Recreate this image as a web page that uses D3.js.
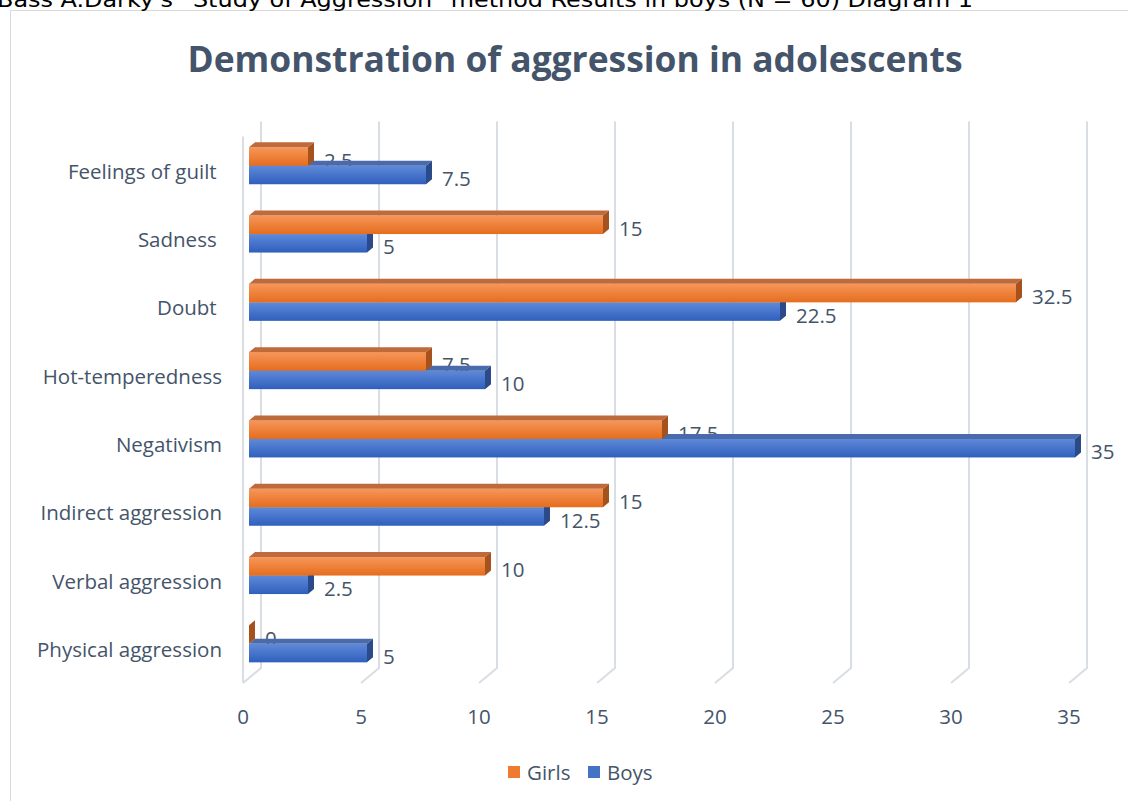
<!DOCTYPE html>
<html>
<head>
<meta charset="utf-8">
<script src="https://cdn.jsdelivr.net/npm/d3@7"></script>
<style>
  body { margin: 0; background: #fff; }
  svg { display: block; }
  text { font-family: "Open Sans", sans-serif; fill: #44546a; }
</style>
</head>
<body>
<div id="chart"></div>
<script>
//---------------------------------- Data --------------------
var categories = ["Feelings of guilt ", "Sadness ", "Doubt ", "Hot-temperedness", "Negativism", "Indirect aggression", "Verbal aggression", "Physical aggression"];
var girls = [2.5, 15, 32.5, 7.5, 17.5, 15, 10, 0];
var boys = [7.5, 5, 22.5, 10, 35, 12.5, 2.5, 5];
var xTicks = [0, 5, 10, 15, 20, 25, 30, 35];
var seriesNames = ["Girls", "Boys"];

//---------------------------------- View --------------------
var width = 1128, height = 801;
var DX = 18, DY = 15;           // full depth of the 3d box
var bdx = 6, bdy = 5;           // depth of one bar
var barH = 18.5;
var fs = "20.5px";

var svg = d3.select("#chart").append("svg")
    .attr("width", width)
    .attr("height", height);

var defs = svg.append("defs");
function grad(id, c1, c2) {
  var g = defs.append("linearGradient").attr("id", id)
    .attr("x1", 0).attr("y1", 0).attr("x2", 0).attr("y2", 1);
  g.append("stop").attr("offset", "0%").attr("stop-color", c1);
  g.append("stop").attr("offset", "100%").attr("stop-color", c2);
}
grad("gOrange", "#f7965a", "#e56d1d");
grad("gBlue", "#5f8ad9", "#2f5fbd");

var colors = {
  Girls: {front: "url(#gOrange)", top: "#bf6a3b", side: "#a5521c", legend: "#ee7b30"},
  Boys:  {front: "url(#gBlue)",   top: "#4a6aab", side: "#2a4a8a", legend: "#4472c4"}
};

// outer chart frame
svg.append("rect")
    .attr("x", 10.5).attr("y", 10.5)
    .attr("width", 1130).attr("height", 800)
    .style("fill", "none")
    .style("stroke", "#d9d9d9")
    .style("stroke-width", 1);

// text above the chart (cut off at the top, as in the source page)
svg.append("text")
    .attr("x", -3).attr("y", 7)
    .attr("textLength", 976)
    .attr("lengthAdjust", "spacingAndGlyphs")
    .style("font-family", "'DejaVu Sans Condensed', 'DejaVu Sans', sans-serif")
    .style("font-size", "22px")
    .style("fill", "#000")
    .text("Bass A.Darky's \u201CStudy of Aggression\u201D method Results in boys (N = 60) Diagram 1");

// title
svg.append("text")
    .attr("x", 575).attr("y", 58)
    .attr("text-anchor", "middle")
    .attr("dominant-baseline", "central")
    .style("font-size", "35.4px")
    .style("font-weight", "bold")
    .text("Demonstration of aggression in adolescents");

//---------------------------------- Scales --------------------
var x_scale = d3.scaleLinear().domain([0, 35]).range([243, 243 + 35 * 23.6]);
var y_scale = d3.scaleBand().domain(categories).range([136.6, 683]);

var yTop = y_scale.range()[0], yBot = y_scale.range()[1];

// ---------- gridlines on back wall + floor ----------
var grid = svg.append("g").attr("class", "grid")
    .style("stroke", "#d9dde4").style("stroke-width", 2).style("fill", "none");

grid.append("line")
    .attr("x1", x_scale(0)).attr("x2", x_scale(0))
    .attr("y1", yTop).attr("y2", yBot);

grid.selectAll(".gl").data(xTicks).enter().append("polyline")
    .attr("class", "gl")
    .attr("points", function(d) {
      var xf = x_scale(d);
      return [[xf + DX, yTop - DY], [xf + DX, yBot - DY], [xf, yBot]].join(" ");
    });

// x axis tick labels
svg.selectAll(".xtick").data(xTicks).enter().append("text")
    .attr("class", "xtick")
    .attr("x", function(d) { return x_scale(d); })
    .attr("y", 716)
    .attr("text-anchor", "middle")
    .attr("dominant-baseline", "central")
    .style("font-size", fs)
    .text(function(d) { return d; });

// category labels
svg.selectAll(".ylab").data(categories).enter().append("text")
    .attr("class", "ylab")
    .attr("x", 222)
    .attr("y", function(d) { return y_scale(d) + y_scale.bandwidth() / 2; })
    .attr("text-anchor", "end")
    .attr("dominant-baseline", "central")
    .style("white-space", "pre")
    .style("font-size", fs)
    .text(function(d) { return d; });

//---------------------------------- Bars --------------------
var bars = [];
categories.forEach(function(c, i) {
  var mid = y_scale(c) + y_scale.bandwidth() / 2 - bdy;   // bar plane
  bars.push({series: "Boys", value: boys[i], y0: mid, y1: mid + barH});
  bars.push({series: "Girls", value: girls[i], y0: mid - barH, y1: mid});
});

var x0 = x_scale(0) + bdx;

// value labels first (bars overlap them like in the original)
svg.selectAll(".vlab").data(bars).enter().append("text")
    .attr("class", "vlab")
    .attr("x", function(d) { return x_scale(d.value) + 2 * bdx + 10; })
    .attr("y", function(d) { return (d.y0 + d.y1) / 2 + 3; })
    .attr("dominant-baseline", "central")
    .style("font-size", fs)
    .text(function(d) { return d.value; });

var barG = svg.selectAll(".bar").data(bars).enter().append("g").attr("class", "bar");

barG.append("rect")
    .attr("x", x0)
    .attr("y", function(d) { return d.y0; })
    .attr("width", function(d) { return x_scale(d.value) - x_scale(0); })
    .attr("height", barH)
    .style("fill", function(d) { return colors[d.series].front; });

barG.append("polygon")
    .attr("points", function(d) {
      var x1 = x0 + x_scale(d.value) - x_scale(0);
      return [[x0, d.y0], [x0 + bdx, d.y0 - bdy], [x1 + bdx, d.y0 - bdy], [x1, d.y0]].join(" ");
    })
    .style("fill", function(d) { return colors[d.series].top; });

barG.append("polygon")
    .attr("points", function(d) {
      var x1 = x0 + x_scale(d.value) - x_scale(0);
      return [[x1, d.y0], [x1 + bdx, d.y0 - bdy], [x1 + bdx, d.y1 - bdy], [x1, d.y1]].join(" ");
    })
    .style("fill", function(d) { return colors[d.series].side; });

//---------------------------------- Legend --------------------
var legendX = [508, 588];
var legend = svg.selectAll(".legend").data(seriesNames).enter().append("g")
    .attr("class", "legend")
    .attr("transform", function(d, i) { return "translate(" + legendX[i] + ",766)"; });

legend.append("rect")
    .attr("width", 12).attr("height", 12)
    .style("fill", function(d) { return colors[d].legend; });

legend.append("text")
    .attr("x", 19).attr("y", 6)
    .attr("dominant-baseline", "central")
    .style("font-size", fs)
    .text(function(d) { return d; });
</script>
</body>
</html>
